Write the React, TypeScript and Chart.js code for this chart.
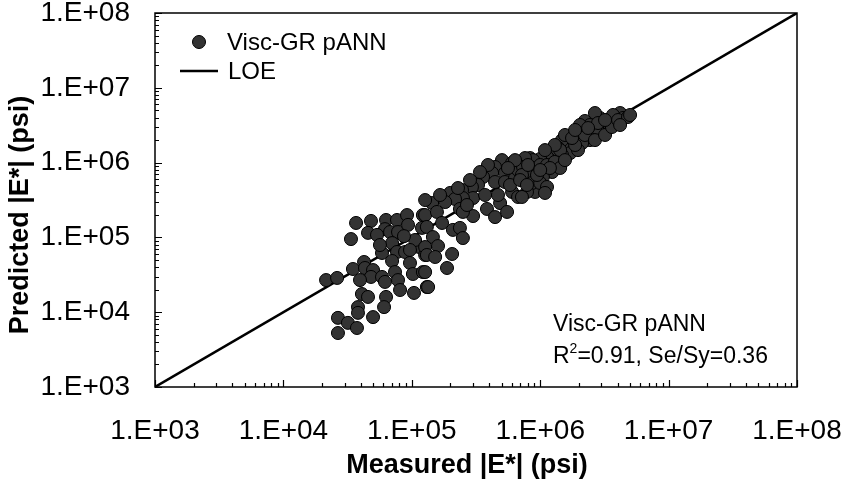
import React, { useEffect, useRef } from "react";
import { Chart, registerables } from "chart.js";

Chart.register(...registerables);

const FONT = '"Liberation Sans", Arial, Helvetica, sans-serif';

// Axis range and decade labels (both axes share them)
const axisMin = 1e3;
const axisMax = 1e8;
const decadeValues = [1e3, 1e4, 1e5, 1e6, 1e7, 1e8];
const decadeLabels = ["1.E+03", "1.E+04", "1.E+05", "1.E+06", "1.E+07", "1.E+08"];

const seriesName = "Visc-GR pANN";
const equalityName = "LOE";
const modelName = "Visc-GR pANN";
const rSquared = "0.91";
const seSy = "0.36";

const xTitle = "Measured |E*| (psi)";
const yTitle = "Predicted |E*| (psi)";

// Low-modulus group (psi)
const measuredLow = [
  3.68e4, 4.81e4, 3.36e4, 6.3e4, 7.67e4, 9.18e4, 6.18e4, 4.56e4, 5.36e4, 6.77e4,
  7.81e4, 9.35e4, 1.22e5, 1.2e5, 7.02e4, 7.67e4, 8.86e4, 5.86e4, 7.02e4, 9.68e4,
  1.14e5, 1.27e5, 4.25e4, 3.48e4, 4.32e4, 4.99e4, 4.81e4, 3.95e4, 5.86e4, 6.18e4,
  7.4e4, 7.81e4, 1.02e5, 1.22e5, 2.15e4, 2.62e4, 8.1e4, 1.04e5, 1.31e5, 4.09e4,
  4.56e4, 6.3e4, 3.81e4, 3.81e4, 6.08e4, 2.66e4, 3.18e4, 4.99e4, 3.74e4, 2.66e4,
  5.65e4, 1.06e5, 8.69e4, 9.68e4,
];
const predictedLow = [
  1.56e5, 1.66e5, 9.5e4, 1.71e5, 1.71e5, 1.99e5, 1.29e5, 1.15e5, 1.08e5, 1.18e5,
  1.18e5, 1.47e5, 1.99e5, 1.34e5, 8.4e4, 6.38e4, 6.38e4, 6.19e4, 4.84e4, 4.55e4,
  7.44e4, 5.82e4, 4.69e4, 3.78e4, 3.9e4, 3.66e4, 2.96e4, 2.69e4, 2.96e4, 2.54e4,
  3.44e4, 2.69e4, 3.24e4, 3.44e4, 2.69e4, 2.87e4, 1.98e4, 1.81e4, 2.17e4, 1.75e4,
  1.6e4, 1.6e4, 1.17e4, 9.8e3, 1.17e4, 8.4e3, 7.2e3, 8.6e3, 6.15e3, 5.27e3,
  7.91e4, 9.23e4, 1.04e5, 6.79e4,
];

// Intermediate group (psi)
const measuredMid = [
  5.04e5, 4.45e5, 6.04e5, 7.21e5, 8.33e5, 9.12e5, 8.33e5, 6.6e5, 5.32e5, 4.22e5,
  3.59e5, 4.45e5, 5.32e5, 6.37e5, 3.28e5, 2.94e5, 2.46e5, 1.99e5, 3.0e5, 2.5e5,
  2.17e5, 1.82e5, 1.44e5, 1.27e5, 1.57e5, 2.37e5, 3.85e5, 3.0e5, 4.45e5, 2.5e5,
  4.87e5, 4.69e5, 6.04e5, 6.72e5, 8.33e5, 9.45e5, 9.12e5, 5.52e5, 1.31e5, 1.72e5,
  1.46e5, 2.09e5, 2.37e5, 2.5e5, 1.6e5, 1.27e5, 1.31e5, 1.52e5, 2.06e5, 1.88e5,
  1.27e5, 1.34e5, 3.92e5, 3.4e5, 2.84e5, 2.29e5, 1.66e5, 1.27e5, 2.69e5, 3.72e5,
  5.82e5, 6.72e5,
];
const predictedMid = [
  1.08e6, 8.73e5, 9.9e5, 1.02e6, 1.15e6, 9.9e5, 7.96e5, 7.96e5, 7.26e5, 7.26e5,
  6.42e5, 5.5e5, 5.5e5, 6.22e5, 5.02e5, 4.72e5, 4.3e5, 3.93e5, 3.36e5, 3.36e5,
  3.26e5, 2.97e5, 2.88e5, 1.99e5, 2.19e5, 2.4e5, 2.4e5, 1.93e5, 1.87e5, 2.19e5,
  2.88e5, 3.69e5, 4.05e5, 3.47e5, 5.34e5, 5.34e5, 4.05e5, 2.19e5, 1.38e5, 1.56e5,
  1.01e5, 1.26e5, 1.34e5, 9.8e4, 7.67e4, 7.44e4, 5.82e4, 5.47e4, 6.0e4, 3.9e4,
  3.44e4, 2.17e4, 9.29e5, 7.48e5, 5.85e5, 4.57e5, 3.69e5, 3.16e5, 2.71e5, 3.69e5,
  5.02e5, 7.96e5,
];

// High-modulus group (psi)
const measuredHigh = [
  4.19e6, 4.42e6, 3.83e6, 3.37e6, 3.08e6, 2.92e6, 2.53e6, 2.23e6, 3.37e6, 2.92e6,
  2.53e6, 2.15e6, 1.94e6, 2.44e6, 2.12e6, 1.8e6, 1.62e6, 1.48e6, 1.38e6, 1.71e6,
  1.97e6, 1.48e6, 1.26e6, 1.19e6, 1.13e6, 1.0e6, 8.8e5, 7.62e5, 7.35e5, 8.63e5,
  1.0e6, 1.13e6, 1.3e6, 1.24e6, 1.43e6, 8.33e5, 7.21e5, 1.05e6, 8.63e5, 1.0e6,
  1.13e6, 7.89e5, 7.21e5, 2.77e6, 3.69e6, 2.67e6, 1.56e6, 1.87e6, 2.23e6, 2.67e6,
  3.2e6, 3.62e6, 2.44e6, 2.04e6, 1.77e6, 1.43e6, 1.3e6, 1.56e6, 1.09e6, 1.19e6,
  9.44e5, 8.04e5, 6.37e5, 5.61e5, 6.97e5, 7.89e5, 1.09e6, 4.04e6, 4.83e6, 2.82e6,
  2.36e6, 3.2e6, 1.87e6, 4.19e6, 5.01e6, 1.0e6,
];
const predictedHigh = [
  4.6e6, 3.95e6, 3.49e6, 3.71e6, 3.18e6, 3.95e6, 3.49e6, 3.6e6, 2.9e6, 2.49e6,
  2.49e6, 2.57e6, 2.2e6, 2.0e6, 1.83e6, 1.83e6, 1.72e6, 2.0e6, 1.57e6, 1.34e6,
  1.47e6, 1.26e6, 1.26e6, 1.08e6, 1.19e6, 1.12e6, 1.08e6, 1.15e6, 8.73e5, 8.47e5,
  9.29e5, 9.29e5, 1.02e6, 7.48e5, 8.47e5, 7.48e5, 6.83e5, 6.42e5, 5.34e5, 5.34e5,
  4.72e5, 4.05e5, 3.47e5, 2.9e6, 4.33e6, 4.6e6, 2.34e6, 1.72e6, 2.34e6, 2.0e6,
  2.34e6, 2.99e6, 3.18e6, 3.18e6, 2.13e6, 1.47e6, 1.72e6, 1.08e6, 1.47e6, 8.47e5,
  6.83e5, 9.29e5, 1.08e6, 8.47e5, 5.85e5, 5.02e5, 3.93e5, 3.71e6, 4.07e6, 3.38e6,
  2.9e6, 3.71e6, 2.73e6, 3.18e6, 4.33e6, 7.96e5,
];

const measured = [...measuredLow, ...measuredMid, ...measuredHigh];
const predicted = [...predictedLow, ...predictedMid, ...predictedHigh];

const pointFill = "#333333";

function labelFor(value: number): string {
  const i = decadeValues.findIndex((d) => Math.abs(d - value) / d < 1e-6);
  return i >= 0 ? decadeLabels[i] : "";
}

const overlayPlugin = {
  id: "overlay",
  afterDatasetsDraw(chart: any) {
    const { ctx, chartArea: a, scales } = chart;
    const xs = scales.x;
    const ys = scales.y;
    ctx.save();

    // plot frame
    ctx.strokeStyle = "#000";
    ctx.lineWidth = 1.5;
    ctx.strokeRect(a.left, a.top, a.right - a.left, a.bottom - a.top);

    // inward tick marks, major at decades and minor at 2..9
    ctx.lineWidth = 1.2;
    ctx.beginPath();
    for (let i = 0; i < decadeValues.length; i++) {
      const d = decadeValues[i];
      const mults = i === decadeValues.length - 1 ? [1] : [1, 2, 3, 4, 5, 6, 7, 8, 9];
      for (const m of mults) {
        const v = m * d;
        const len = m === 1 ? 7 : 4;
        const px = Math.round(xs.getPixelForValue(v)) + 0.5;
        ctx.moveTo(px, a.bottom);
        ctx.lineTo(px, a.bottom - len);
        const py = Math.round(ys.getPixelForValue(v)) + 0.5;
        ctx.moveTo(a.left, py);
        ctx.lineTo(a.left + len, py);
      }
    }
    ctx.stroke();

    // legend
    const lx = a.left + 44;
    const ly1 = a.top + 29;
    const ly2 = a.top + 58;
    ctx.fillStyle = pointFill;
    ctx.strokeStyle = "#000";
    ctx.lineWidth = 1;
    ctx.beginPath();
    ctx.arc(lx, ly1, 6.5, 0, Math.PI * 2);
    ctx.fill();
    ctx.stroke();
    ctx.lineWidth = 2.5;
    ctx.beginPath();
    ctx.moveTo(lx - 19, ly2);
    ctx.lineTo(lx + 19, ly2);
    ctx.stroke();
    ctx.fillStyle = "#000";
    ctx.font = `24px ${FONT}`;
    ctx.textAlign = "left";
    ctx.textBaseline = "middle";
    ctx.fillText(seriesName, lx + 28, ly1 + 1);
    ctx.fillText(equalityName, lx + 29, ly2 + 1);

    // statistics text
    const sx = a.left + 398;
    ctx.font = `23px ${FONT}`;
    ctx.fillText(modelName, sx, a.top + 312);
    const sy = a.top + 344;
    ctx.fillText("R", sx, sy);
    let cx = sx + ctx.measureText("R").width;
    ctx.font = `14px ${FONT}`;
    ctx.fillText("2", cx, sy - 8);
    cx += ctx.measureText("2").width;
    ctx.font = `23px ${FONT}`;
    ctx.fillText(`=${rSquared}, Se/Sy=${seSy}`, cx, sy);

    // axis titles
    ctx.font = `bold 27px ${FONT}`;
    ctx.textAlign = "center";
    ctx.fillText(xTitle, (a.left + a.right) / 2 - 9, a.bottom + 79);
    ctx.translate(21, (a.top + a.bottom) / 2 + 15);
    ctx.rotate(-Math.PI / 2);
    ctx.fillText(yTitle, 0, 0);
    ctx.restore();
  },
};

export default function App() {
  const canvasRef = useRef<HTMLCanvasElement>(null);

  useEffect(() => {
    const canvas = canvasRef.current;
    if (!canvas) return;
    const points = measured.map((m, i) => ({ x: m, y: predicted[i] }));
    const tickFont = { family: FONT, size: 28 };

    const chart = new Chart(canvas, {
      type: "scatter",
      data: {
        datasets: [
          {
            label: seriesName,
            data: points,
            order: 0,
            pointRadius: 6.5,
            pointBackgroundColor: pointFill,
            pointBorderColor: "#000",
            pointBorderWidth: 1,
            showLine: false,
          },
          {
            label: equalityName,
            data: [
              { x: axisMin, y: axisMin },
              { x: axisMax, y: axisMax },
            ],
            order: 1,
            showLine: true,
            borderColor: "#000",
            borderWidth: 2.5,
            pointRadius: 0,
          },
        ],
      },
      options: {
        animation: false,
        responsive: true,
        maintainAspectRatio: false,
        devicePixelRatio: 1,
        layout: { padding: { left: 0, top: 13, right: 49, bottom: 0 } },
        plugins: {
          legend: { display: false },
          tooltip: { enabled: false },
        },
        scales: {
          x: {
            type: "logarithmic",
            min: axisMin,
            max: axisMax,
            grid: { display: false, drawTicks: false },
            border: { display: false },
            ticks: {
              autoSkip: false,
              maxRotation: 0,
              minRotation: 0,
              padding: 27,
              color: "#000",
              font: tickFont,
              callback: (v: any) => labelFor(Number(v)),
            },
            afterFit: (s: any) => {
              s.height = 95;
              s.paddingLeft = 0;
              s.paddingRight = 0;
            },
          },
          y: {
            type: "logarithmic",
            min: axisMin,
            max: axisMax,
            grid: { display: false, drawTicks: false },
            border: { display: false },
            ticks: {
              autoSkip: false,
              padding: 25,
              color: "#000",
              font: tickFont,
              callback: (v: any) => labelFor(Number(v)),
            },
            afterFit: (s: any) => {
              s.width = 155;
              s.paddingTop = 0;
              s.paddingBottom = 0;
            },
          },
        },
      },
      plugins: [overlayPlugin],
    });

    return () => chart.destroy();
  }, []);

  return (
    <div
      style={{
        position: "absolute",
        left: 0,
        top: 0,
        width: 846,
        height: 482,
        background: "#fff",
      }}
    >
      <canvas ref={canvasRef} />
    </div>
  );
}
